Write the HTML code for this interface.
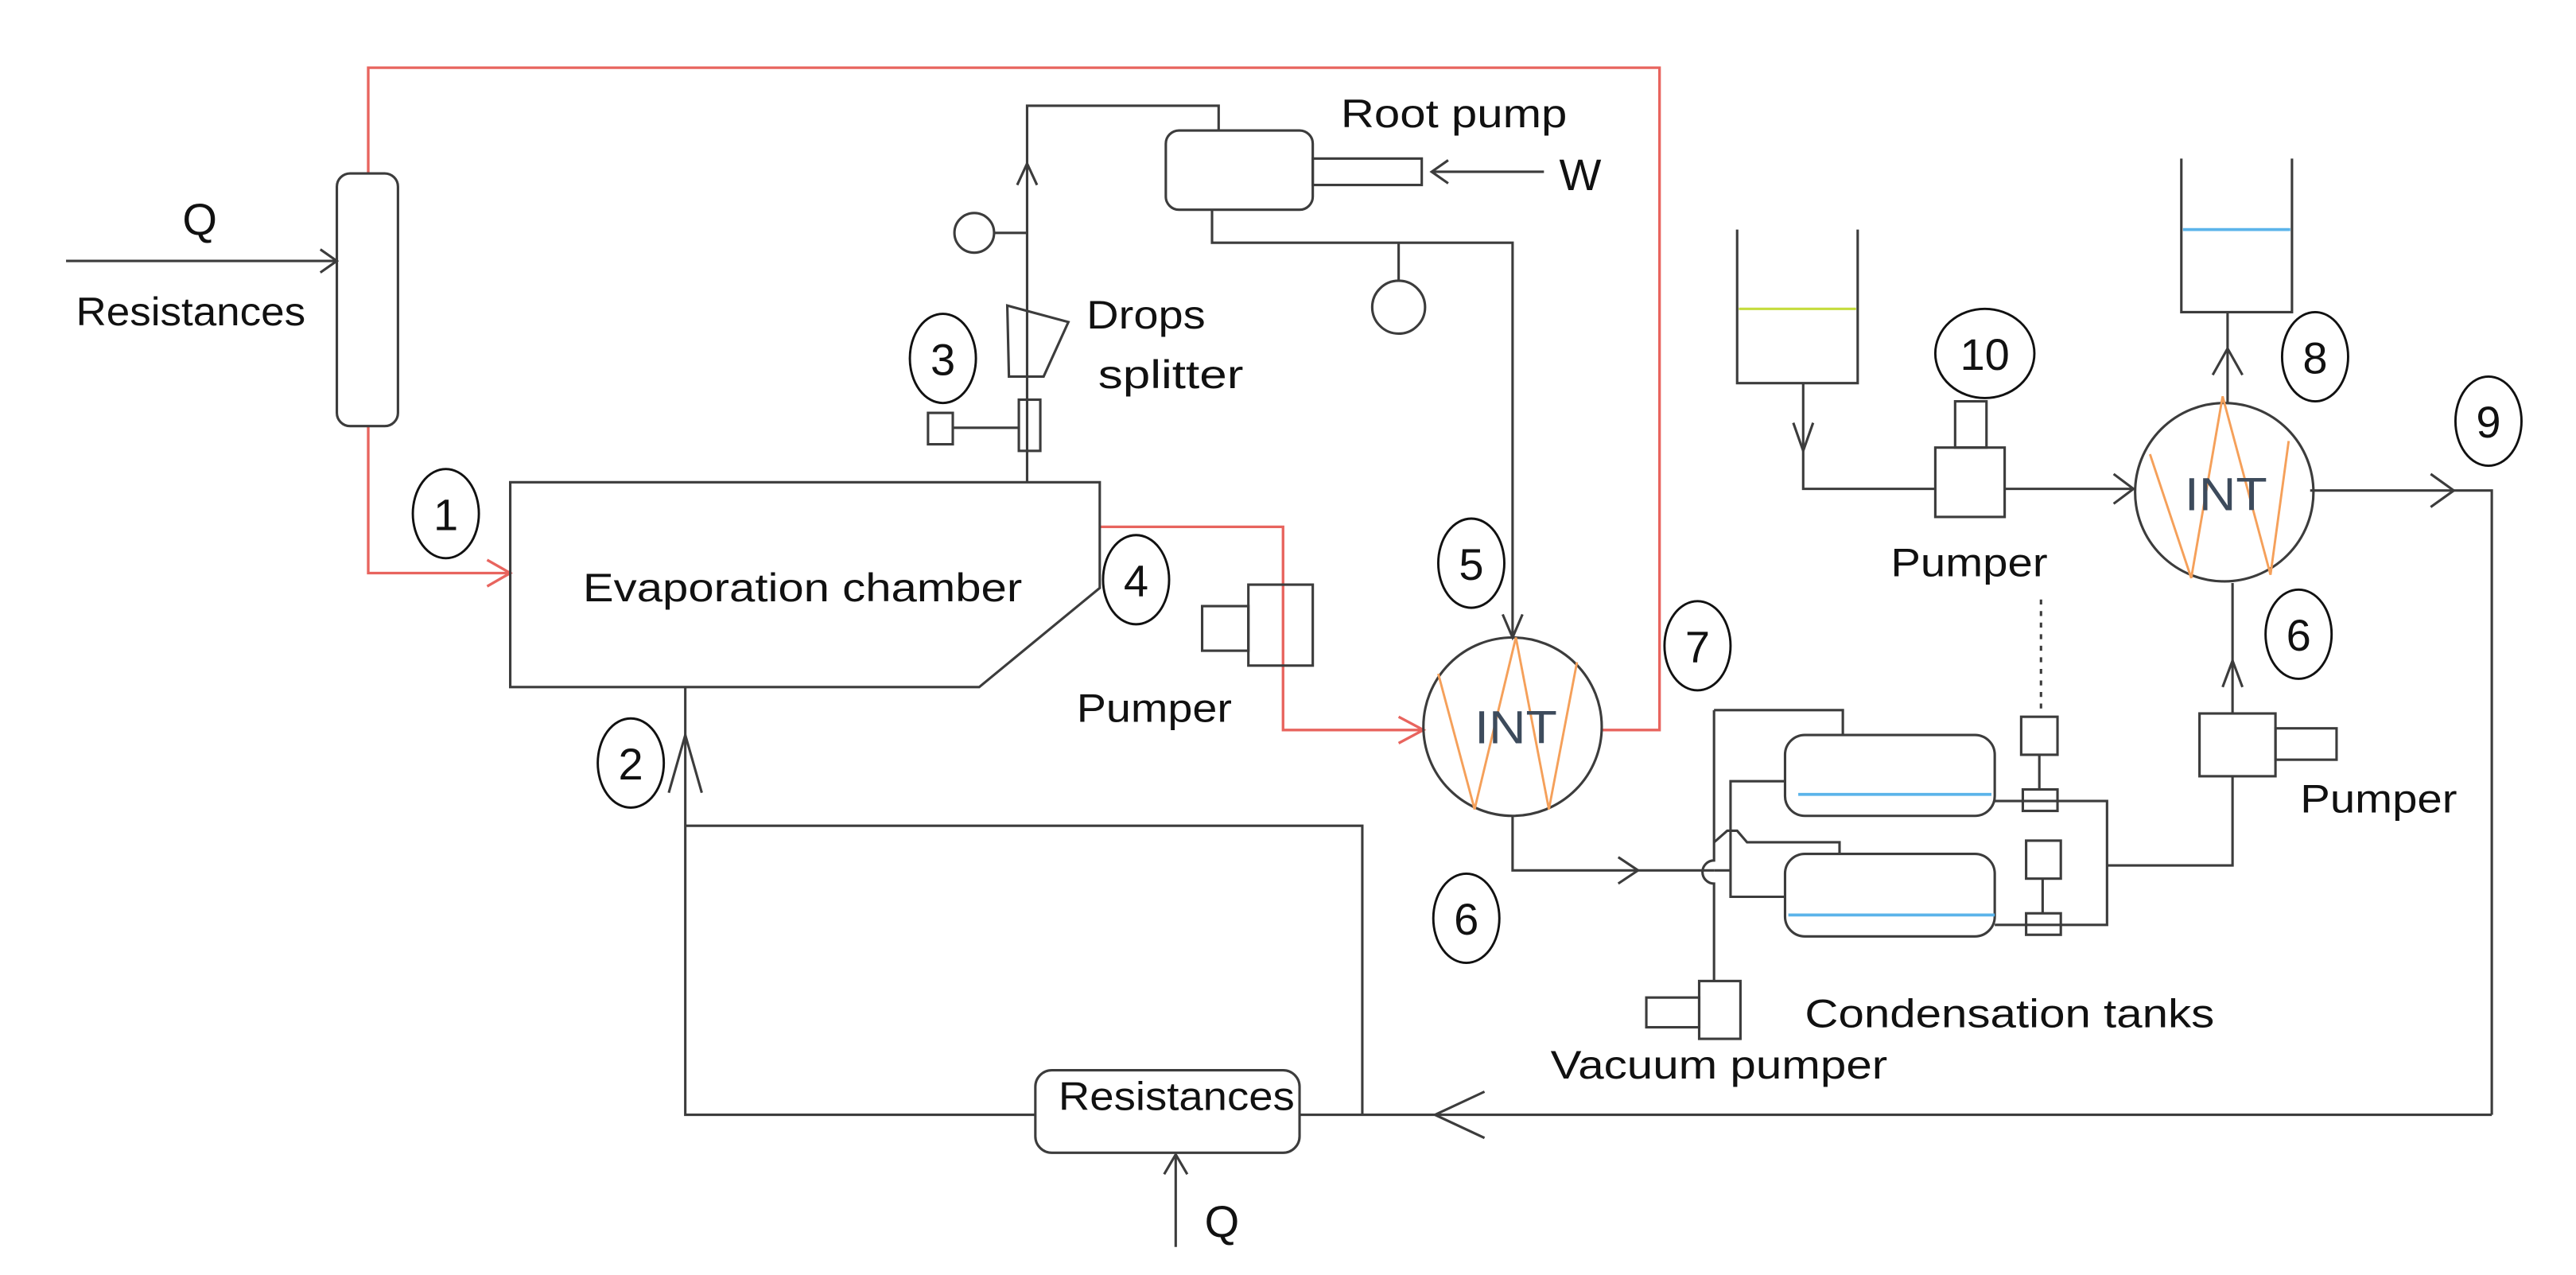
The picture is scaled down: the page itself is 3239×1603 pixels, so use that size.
<!DOCTYPE html>
<html><head><meta charset="utf-8"><style>
html,body{margin:0;padding:0;background:#fff;}
svg{display:block;}
text{font-family:"Liberation Sans",sans-serif;fill:#111;}
</style></head><body>
<svg width="3239" height="1603" viewBox="0 0 1560 772" preserveAspectRatio="none" xmlns="http://www.w3.org/2000/svg">
<g fill="none" stroke-linejoin="miter">
<!-- red lines -->
<g stroke="#e8645e" stroke-width="1.6">
<polyline points="223,105 223,41 1005,41 1005,442 970,442"/>
<polyline points="223,258 223,347 309,347"/>
<polyline points="295,339 309,347 295,355"/>
<polyline points="666,319 777,319 777,442 862,442"/>
<polyline points="847,434 862,442 847,450"/>
</g>
<g stroke="#3c3c3c" stroke-width="1.5">
<!-- left resistance -->
<rect x="204" y="105" width="37" height="153" rx="8"/>
<line x1="40" y1="158" x2="204" y2="158"/>
<polyline points="194,151 204,158 194,165"/>
<!-- chamber -->
<polygon points="309,292 666,292 666,356 593,416 309,416"/>
<!-- bottom loop -->
<polyline points="415,416 415,675 627,675"/>
<polyline points="405,480 415,445 425,480"/>
<polyline points="415,500 825,500 825,675"/>
<rect x="627" y="648" width="160" height="50" rx="10"/>
<line x1="787" y1="675" x2="1509" y2="675"/>
<polyline points="899,661 869,675 899,689"/>
<polyline points="1509,675 1509,297 1399,297"/>
<polyline points="1472,287 1486,297 1472,307"/>
<line x1="712" y1="755" x2="712" y2="699"/>
<polyline points="705,711 712,699 719,711"/>
<!-- drops splitter column -->
<polyline points="622,292 622,64 738,64 738,79"/>
<polyline points="616,112 622,99 628,112"/>
<circle cx="590" cy="141" r="12"/>
<line x1="602" y1="141" x2="622" y2="141"/>
<polygon points="610,185 647,195 632,228 611,228"/>
<rect x="617" y="242" width="13" height="31"/>
<rect x="562" y="250" width="15" height="19"/>
<line x1="577" y1="259" x2="617" y2="259"/>
<!-- root pump -->
<rect x="706" y="79" width="89" height="48" rx="8"/>
<rect x="795" y="96" width="66" height="16"/>
<line x1="867" y1="104" x2="935" y2="104"/>
<polyline points="877,97 867,104 877,111"/>
<polyline points="734,127 734,147 916,147 916,386"/>
<line x1="847" y1="147" x2="847" y2="170"/>
<circle cx="847" cy="186" r="16"/>
<polyline points="910,372 916,386 922,372"/>
<!-- left pumper -->
<rect x="756" y="354" width="39" height="49"/>
<rect x="728" y="367" width="28" height="27"/>
<!-- INT1 -->
<circle cx="916" cy="440" r="54"/>
<polyline points="916,494 916,527 1038,527"/>
<polyline points="980,519 992,527 980,535"/>
<!-- condensation area -->
<path d="M1038,430 L1038,521 A7,7 0 0 0 1038,535 L1038,594"/>
<polyline points="1038,430 1116,430 1116,445"/>
<polyline points="1038,510 1046,503 1052,503 1058,510 1114,510 1114,517"/>
<line x1="1038" y1="527" x2="1048" y2="527"/>
<polyline points="1081,473 1048,473 1048,543 1081,543"/>
<rect x="1081" y="445" width="127" height="49" rx="12"/>
<rect x="1081" y="517" width="127" height="50" rx="12"/>
<polyline points="1208,485 1276,485 1276,560 1208,560"/>
<rect x="1224" y="434" width="22" height="23"/>
<line x1="1235" y1="457" x2="1235" y2="478"/>
<rect x="1225" y="478" width="21" height="13"/>
<rect x="1227" y="509" width="21" height="23"/>
<line x1="1237" y1="532" x2="1237" y2="553"/>
<rect x="1227" y="553" width="21" height="13"/>
<polyline points="1276,524 1352,524 1352,470"/>
<line x1="1236" y1="363" x2="1236" y2="433" stroke-dasharray="3,4"/>
<!-- vacuum pumper -->
<rect x="1029" y="594" width="25" height="35"/>
<rect x="997" y="604" width="32" height="18"/>
<!-- right pumper -->
<rect x="1332" y="432" width="46" height="38"/>
<rect x="1378" y="441" width="37" height="19"/>
<line x1="1352" y1="432" x2="1352" y2="353"/>
<polyline points="1346,416 1352,400 1358,416"/>
<!-- INT2 -->
<circle cx="1347" cy="298" r="54"/>
<line x1="1349" y1="244" x2="1349" y2="189"/>
<polyline points="1340,227 1349,211 1358,227"/>
<!-- beakers -->
<polyline points="1321,96 1321,189 1388,189 1388,96"/>
<polyline points="1052,139 1052,232 1125,232 1125,139"/>
<polyline points="1092,232 1092,296 1172,296"/>
<polyline points="1086,256 1092,273 1098,256"/>
<line x1="1214" y1="296" x2="1293" y2="296"/>
<polyline points="1280,287 1292,296 1280,305"/>
<rect x="1172" y="271" width="42" height="42"/>
<rect x="1184" y="243" width="19" height="28"/>
</g>
<!-- liquid levels -->
<line x1="1053" y1="187" x2="1124" y2="187" stroke="#c5dc3c" stroke-width="1.5"/>
<line x1="1322" y1="139" x2="1387" y2="139" stroke="#5bb4ea" stroke-width="1.8"/>
<line x1="1089" y1="481" x2="1206" y2="481" stroke="#5bb4ea" stroke-width="1.8"/>
<line x1="1083" y1="554" x2="1208" y2="554" stroke="#5bb4ea" stroke-width="1.8"/>
<!-- zigzags -->
<g stroke="#f5a05a" stroke-width="1.4">
<polyline points="871,408 893,490 918,386 938,490 955,401"/>
<polyline points="1302,275 1327,350 1346,240 1375,348 1386,267"/>
</g>
<!-- label circles -->
<g stroke="#111" stroke-width="1.4">
<ellipse cx="270" cy="311" rx="20" ry="27"/>
<ellipse cx="382" cy="462" rx="20" ry="27"/>
<ellipse cx="571" cy="217" rx="20" ry="27"/>
<ellipse cx="688" cy="351" rx="20" ry="27"/>
<ellipse cx="891" cy="341" rx="20" ry="27"/>
<ellipse cx="1028" cy="391" rx="20" ry="27"/>
<ellipse cx="888" cy="556" rx="20" ry="27"/>
<ellipse cx="1392" cy="384" rx="20" ry="27"/>
<ellipse cx="1402" cy="216" rx="20" ry="27"/>
<ellipse cx="1507" cy="255" rx="20" ry="27"/>
<ellipse cx="1202" cy="214" rx="30" ry="27"/>
</g>
</g>
<g font-size="27" text-anchor="middle">
<text x="270" y="321">1</text>
<text x="382" y="472">2</text>
<text x="571" y="227">3</text>
<text x="688" y="361">4</text>
<text x="891" y="351">5</text>
<text x="1028" y="401">7</text>
<text x="888" y="566">6</text>
<text x="1392" y="394">6</text>
<text x="1402" y="226">8</text>
<text x="1507" y="265">9</text>
<text x="1202" y="224">10</text>
<text x="121" y="142">Q</text>
<text x="740" y="749">Q</text>
<text x="957" y="115">W</text>
</g>
<g font-size="24">
<text x="46" y="197" textLength="139" lengthAdjust="spacingAndGlyphs">Resistances</text>
<text x="353" y="364" textLength="266" lengthAdjust="spacingAndGlyphs">Evaporation chamber</text>
<text x="641" y="672" textLength="143" lengthAdjust="spacingAndGlyphs">Resistances</text>
<text x="658" y="199" textLength="72" lengthAdjust="spacingAndGlyphs">Drops</text>
<text x="665" y="235" textLength="88" lengthAdjust="spacingAndGlyphs">splitter</text>
<text x="812" y="77" textLength="137" lengthAdjust="spacingAndGlyphs">Root pump</text>
<text x="652" y="437" textLength="94" lengthAdjust="spacingAndGlyphs">Pumper</text>
<text x="1145" y="349" textLength="95" lengthAdjust="spacingAndGlyphs">Pumper</text>
<text x="1393" y="492" textLength="95" lengthAdjust="spacingAndGlyphs">Pumper</text>
<text x="1093" y="622" textLength="248" lengthAdjust="spacingAndGlyphs">Condensation tanks</text>
<text x="939" y="653" textLength="204" lengthAdjust="spacingAndGlyphs">Vacuum pumper</text>
</g>
<g font-size="28" fill="#3a4a5a">
<text x="893" y="450" textLength="50" lengthAdjust="spacingAndGlyphs" style="fill:#3d4b5c">INT</text>
<text x="1323" y="309" textLength="50" lengthAdjust="spacingAndGlyphs" style="fill:#3d4b5c">INT</text>
</g>
</svg>
</body></html>
